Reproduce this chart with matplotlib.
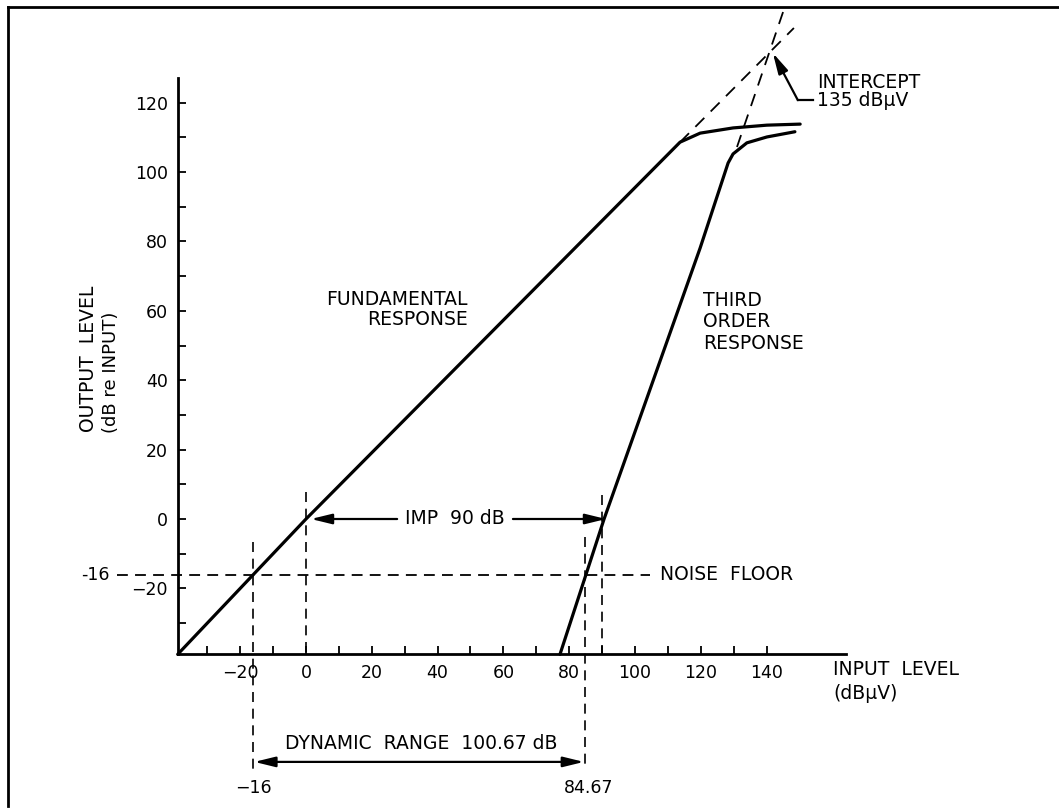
import matplotlib.pyplot as plt
from matplotlib.lines import Line2D

# values (input / output level in dB)
fund_in = [-39, 0, 113.7, 119.8, 129.8, 140.1, 150.2]
fund_out = [-39, 0, 108.6, 111.2, 112.7, 113.5, 113.8]

third_in = [77.2, 90.6, 119.8, 128.3, 129.8, 134.0, 140.1, 148.6]
third_out = [-39, 0, 78.1, 102.6, 105.2, 108.4, 110.1, 111.6]

# dashed extrapolations up to the intercept point
fund_ext_in = [113.7, 148.3]
fund_ext_out = [108.6, 141.5]
third_ext_in = [131.0, 145.0]
third_ext_out = [107.2, 146.1]
intercept = (141.9, 134.3)

noise_floor = -16
imp_lo, imp_hi = 0, 90
dr_lo, dr_hi = -16, 84.67

x_major = list(range(-20, 141, 20))
x_minor = list(range(-30, 141, 20))
y_major = list(range(-20, 121, 20))
y_minor = list(range(-30, 121, 20))

# pixel mapping of the reference (origin of the scale, px per dB)
W, H = 1059, 808
X0, XS = 306, 3.29
Y0, YS = 519, 3.47

plt.rcParams['font.family'] = ['DejaVu Sans']
fig = plt.figure(figsize=(W / 100, H / 100), dpi=100)
ax = fig.add_axes([0, 0, 1, 1])
ax.set_xlim(-X0 / XS, (W - X0) / XS)
ax.set_ylim((Y0 - H) / YS, Y0 / YS)

for s in ['top', 'right']:
    ax.spines[s].set_visible(False)
ax.spines['left'].set_position(('data', -39))
ax.spines['bottom'].set_position(('data', -39))
ax.spines['left'].set_bounds(-39, 127.1)
ax.spines['bottom'].set_bounds(-39, 164.1)
ax.spines['left'].set_linewidth(2)
ax.spines['bottom'].set_linewidth(2)

ax.set_xticks(x_major)
ax.set_xticks(x_minor, minor=True)
ax.set_yticks(y_major)
ax.set_yticks(y_minor, minor=True)
ax.tick_params(which='both', direction='in', length=5.5, width=1.3)
ax.tick_params(axis='both', labelsize=12.5, pad=7)

lw_main = 2.3
ax.plot(fund_in, fund_out, color='k', lw=lw_main, solid_joinstyle='round', solid_capstyle='round')
ax.plot(third_in, third_out, color='k', lw=lw_main, solid_joinstyle='round', solid_capstyle='round')
ax.plot(fund_ext_in, fund_ext_out, color='k', lw=1.3, ls=(0, (7, 5)), clip_on=False)
ax.plot(third_ext_in, third_ext_out, color='k', lw=1.3, ls=(0, (7, 5)), clip_on=False)

# noise floor and guide lines
dash = (0, (6, 4))
ax.plot([-57.4, 104.6], [noise_floor, noise_floor], color='k', lw=1.3, ls=dash)
ax.plot([dr_lo, dr_lo], [-6.6, -73], color='k', lw=1.2, ls=dash)
ax.plot([imp_lo, imp_lo], [7.8, -39], color='k', lw=1.2, ls=dash)
ax.plot([dr_hi, dr_hi], [-5.2, -72.3], color='k', lw=1.2, ls=dash)
ax.plot([imp_hi, imp_hi], [6.9, -39], color='k', lw=1.2, ls=dash)

fs = 13.5
arrow = dict(arrowstyle='-|>,head_length=0.9,head_width=0.22', color='k', lw=1.6,
             shrinkA=0, shrinkB=0, mutation_scale=14)

# IMP
ax.text(45.4, 0, 'IMP  90 dB', fontsize=fs, ha='center', va='center')
ax.annotate('', xy=(imp_lo + 1.5, 0), xytext=(27.7, 0), arrowprops=arrow)
ax.annotate('', xy=(imp_hi + 1.2, 0), xytext=(62.9, 0), arrowprops=arrow)

# noise floor
ax.text(107.6, noise_floor, 'NOISE  FLOOR', fontsize=fs, ha='left', va='center')
ax.text(-59.6, noise_floor, '-16', fontsize=12.5, ha='right', va='center')

# dynamic range
ax.annotate('', xy=(dr_lo + 0.3, -70), xytext=(dr_hi - 0.2, -70),
            arrowprops=dict(arrow, arrowstyle='<|-|>,head_length=0.9,head_width=0.22'))
ax.text(35.1, -64.8, 'DYNAMIC  RANGE  100.67 dB', fontsize=fs, ha='center', va='center')
ax.text(-16.1, -77.5, '\u221216', fontsize=12.5, ha='center', va='center')
ax.text(86, -77.5, '84.67', fontsize=12.5, ha='center', va='center')

# curve labels
ax.text(49.2, 60.4, 'FUNDAMENTAL\nRESPONSE', fontsize=fs, ha='right', va='center',
        multialignment='right', linespacing=1.1)
ax.text(120.7, 56.8, 'THIRD\nORDER\nRESPONSE', fontsize=fs, ha='left', va='center',
        linespacing=1.15)

# intercept
ax.plot([154.1, 149.5], [120.7, 120.7], color='k', lw=1.6, clip_on=False)
ax.annotate('', xy=intercept, xytext=(149.5, 120.7), arrowprops=arrow)
ax.text(155.3, 125.9, 'INTERCEPT', fontsize=fs, ha='left', va='center')
ax.text(155.3, 120.7, '135 dB\u03bcV', fontsize=fs, ha='left', va='center')

# axis titles
ax.text(160.3, -43.5, 'INPUT  LEVEL', fontsize=fs, ha='left', va='center')
ax.text(160.3, -50.4, '(dB\u03bcV)', fontsize=fs, ha='left', va='center')
ax.text(-66.2, 25.1, 'OUTPUT  LEVEL', fontsize=13.5, rotation=90, ha='center', va='bottom')
ax.text(-59.3, 24.8, '(dB re INPUT)', fontsize=13, rotation=90, ha='center', va='bottom')

# page frame (left and top edge only)
fig.add_artist(Line2D([8 / W, 8 / W], [0.002, 1 - 7 / H], color='k', lw=2, transform=fig.transFigure))
fig.add_artist(Line2D([8 / W, 1], [1 - 7 / H, 1 - 7 / H], color='k', lw=2, transform=fig.transFigure))

fig.savefig('out.png', dpi=100)
